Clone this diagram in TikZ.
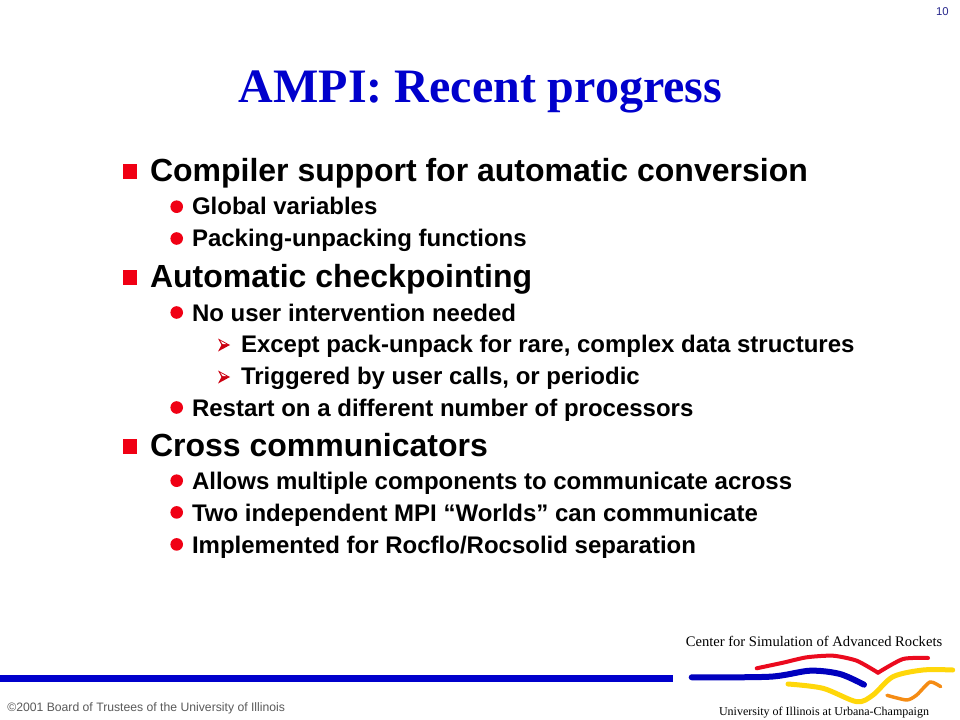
\documentclass[tikz,border=0pt]{standalone}
\usepackage{fontspec}
\setmainfont{Liberation Sans}
\newfontfamily\serifbold{Liberation Serif}[BoldFont={Liberation Serif Bold}]
\definecolor{titleblue}{RGB}{0,0,204}
\definecolor{pageblue}{RGB}{40,40,140}
\definecolor{bulred}{RGB}{240,0,20}
\definecolor{footgrey}{RGB}{90,90,90}
\definecolor{rktred}{RGB}{235,10,30}
\definecolor{rktblue}{RGB}{0,0,190}
\definecolor{rktyellow}{RGB}{255,215,10}
\definecolor{rktorange}{RGB}{245,140,20}
\tikzset{
  x=0.75pt,y=-0.75pt,
  txt/.style={anchor=base west,inner sep=0pt,outer sep=0pt,text=black},
  lone/.style={txt,font=\fontsize{24pt}{28pt}\selectfont\bfseries},
  ltwo/.style={txt,font=\fontsize{18pt}{20pt}\selectfont\bfseries},
  lthree/.style={ltwo},
  squarebul/.style={fill=bulred,draw=none},
  roundbul/.style={fill=bulred,draw=none},
  curve/.style={line cap=round,line join=round,smooth}
}
\newcommand{\arrowbul}[2]{%
  \fill[bulred!85!black] (#1-6,#2-6.5) -- (#1+6,#2) -- (#1-6,#2+6.5) -- (#1-2.5,#2) -- cycle;
  \fill[white] (#1-3.6,#2-4.2) -- (#1+2.6,#2-0.8) -- (#1-1.2,#2-0.8) -- cycle;}
\begin{document}
\begin{tikzpicture}
\useasboundingbox (0,0) rectangle (960,720);
\fill[white] (0,0) rectangle (960,720);
\node[anchor=base east,inner sep=0pt,text=pageblue,font=\fontsize{8.5pt}{10pt}\selectfont] (pg) at (949,15.5) {10};
\node[anchor=base,inner sep=0pt,text=titleblue,font=\fontsize{36pt}{40pt}\selectfont\serifbold\bfseries] (title) at (480.5,103) {AMPI: Recent progress};
\foreach \y in {172,278,446.5}{\fill[squarebul] (122.7,\y-7.5) rectangle (137,\y+7.3);}
\foreach \y in {206.7,238.5,312.5,407.5,480.7,512.4,544.4}{\fill[roundbul] (176.7,\y) circle[radius=6.3];}
\arrowbul{224}{345}
\arrowbul{224}{377}
\node[lone] (a) at (150,181.5) {Compiler support for automatic conversion};
\node[ltwo] (a1) at (192,215) {Global variables};
\node[ltwo] (a2) at (192,247) {Packing-unpacking functions};
\node[lone] (b) at (150,287) {Automatic checkpointing};
\node[ltwo] (b1) at (192,321) {No user intervention needed};
\node[lthree] (b2) at (241,352) {Except pack-unpack for rare, complex data structures};
\node[lthree] (b3) at (241,384) {Triggered by user calls, or periodic};
\node[ltwo] (b4) at (192,416) {Restart on a different number of processors};
\node[lone] (c) at (150,456) {Cross communicators};
\node[ltwo] (c1) at (192,489) {Allows multiple components to communicate across};
\node[ltwo] (c2) at (192,521) {Two independent MPI “Worlds” can communicate};
\node[ltwo] (c3) at (192,553) {Implemented for Rocflo/Rocsolid separation};
\fill[titleblue] (0,675) rectangle (673,682);
\node[anchor=base west,inner sep=0pt,text=footgrey,font=\fontsize{9.15pt}{10pt}\selectfont] (foot) at (7,711) {©2001 Board of Trustees of the University of Illinois};
\node[anchor=base,inner sep=0pt,font=\fontsize{10.94pt}{12pt}\selectfont\serifbold] (cent) at (814,646.7) {Center for Simulation of Advanced Rockets};
\node[anchor=base,inner sep=0pt,font=\fontsize{9pt}{12pt}\selectfont\serifbold] (univ) at (824,715) {University of Illinois at Urbana-Champaign};
\draw[curve,draw=rktyellow,line width=3.75pt] plot[tension=0.5] coordinates {(788,684) (823,688.3) (856.7,701.7) (873,695) (893,676.7) (923,670) (952.7,670)};
\draw[curve,draw=rktred,line width=3pt] plot[tension=0.4] coordinates {(756.7,668.3) (783,662.7) (806.7,657.3) (833,655.7) (856.7,660.7) (878,672.7)};
\draw[curve,draw=rktred,line width=3pt] plot[tension=0.4] coordinates {(878,672.7) (903,659) (928,658)};
\draw[curve,draw=rktblue,line width=4.5pt] plot[tension=0.5] coordinates {(691.7,677.3) (770,676.7) (810,670.7) (840,674) (864,684.7)};
\draw[curve,draw=rktorange,line width=2.6pt] plot[tension=0.4] coordinates {(887,695.3) (906.7,700) (916.7,695) (930,682) (940.7,686.7)};
\end{tikzpicture}
\end{document}
